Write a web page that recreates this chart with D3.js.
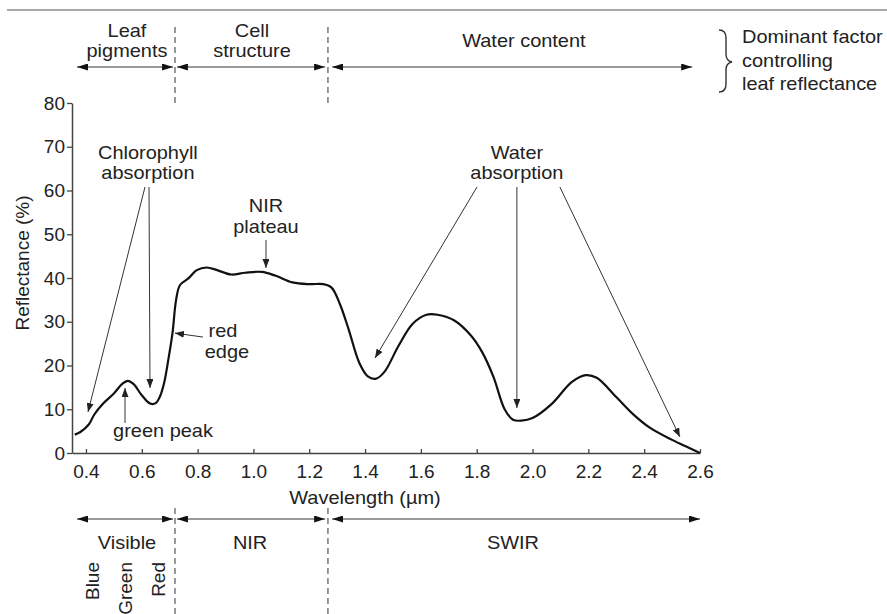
<!DOCTYPE html>
<html><head><meta charset="utf-8">
<script src="https://cdn.jsdelivr.net/npm/d3@7"></script>
<style>
html,body{margin:0;padding:0;background:#fff;}
text{font-family:"Liberation Sans",Arial,Helvetica,sans-serif;fill:#222;}
</style></head>
<body><svg id="chart" width="887" height="614"></svg>
<script>
// ---------- data ----------
const wavelength = [0.36,0.38,0.41,0.43,0.46,0.50,0.53,0.55,0.57,0.60,0.63,0.65,0.665,0.68,0.695,0.71,0.723,0.737,0.767,0.797,0.833,0.87,0.92,0.97,1.03,1.08,1.14,1.20,1.25,1.28,1.31,1.34,1.38,1.41,1.44,1.47,1.52,1.57,1.62,1.66,1.72,1.78,1.82,1.86,1.90,1.93,1.96,2.00,2.07,2.14,2.19,2.23,2.30,2.36,2.42,2.50,2.56,2.60];
const reflectance = [4.2,4.8,6.5,8.8,11.2,13.6,15.8,16.5,15.8,13.2,11.3,11.4,12.9,16.0,21.3,27.4,35.0,38.4,39.9,41.8,42.4,41.8,40.8,41.2,41.4,40.5,39.0,38.6,38.6,37.8,34.0,28.5,20.5,17.5,17.0,18.6,24.5,29.5,31.6,31.6,30.3,26.8,23.0,17.4,10.0,7.6,7.4,8.0,11.3,16.2,17.8,17.2,12.8,8.9,5.8,3.0,1.2,0.0];
const xTicks = [0.4,0.6,0.8,1.0,1.2,1.4,1.6,1.8,2.0,2.2,2.4,2.6];
const yTicks = [0,10,20,30,40,50,60,70,80];
const xTitle = "Wavelength (\u00b5m)";
const yTitle = "Reflectance (%)";

// region boundaries (µm) and labels
const boundaries = [0.719, 1.267];
const topSpans = [[0.368,0.712],[0.726,1.257],[1.282,2.572]];
const topLabels = [{w:0.547, lines:["Leaf","pigments"]},{w:0.995, lines:["Cell","structure"]},{w:1.969, lines:["Water content"]}];
const bottomSpans = [[0.368,0.712],[0.726,1.257],[1.282,2.6]];
const bottomLabels = [{w:0.547, t:"Visible"},{w:0.988, t:"NIR"},{w:1.93, t:"SWIR"}];
const colourBands = [{w:0.422, t:"Blue"},{w:0.54, t:"Green"},{w:0.658, t:"Red"}];
const legendLines = ["Dominant factor","controlling","leaf reflectance"];

// annotations in data units (wavelength, reflectance)
const noteTexts = [
  {w:0.622, v:[67.2,62.6], lines:["Chlorophyll","absorption"]},
  {w:1.944, v:[67.2,62.6], lines:["Water","absorption"]},
  {w:1.045, v:[55.1,50.3], lines:["NIR","plateau"]},
  {w:[0.891,0.905], v:[26.6,21.7], lines:["red","edge"]},
  {w:0.676, v:[3.66], lines:["green peak"]}
];
const noteArrows = [
  [0.6115,60.8,0.4073,9.37],
  [0.6259,60.8,0.6295,14.86],
  [0.5399,6.86,0.5399,14.86],
  [0.8193,26.5,0.719,27.4],
  [1.045,48.7,1.045,42.3],
  [1.801,60.8,1.4356,21.7],
  [1.944,60.8,1.944,10.3],
  [2.098,60.8,2.528,3.66]
];

// ---------- drawing ----------
const svg = d3.select("#chart");
const x = d3.scaleLinear().domain([0.35,2.6]).range([72,700]);
const y = d3.scaleLinear().domain([0,80]).range([453,103]);
const FS = 19, SX = 1.05;

function txt(px, py, s, anchor){
  return svg.append("text")
    .attr("transform", `translate(${px},${py}) scale(${SX},1)`)
    .attr("text-anchor", anchor||"middle")
    .style("font-size", FS+"px").text(s);
}

const defs = svg.append("defs");
function marker(id, len, wid, col){
  defs.append("marker").attr("id",id).attr("viewBox",`0 ${-wid/2} ${len} ${wid}`)
    .attr("refX",len).attr("refY",0).attr("markerUnits","userSpaceOnUse")
    .attr("markerWidth",len).attr("markerHeight",wid).attr("orient","auto-start-reverse")
    .append("path").attr("d",`M0,${-wid/2}L${len},0L0,${wid/2}Z`).attr("fill",col);
}
marker("hd", 11, 7, "#111");
marker("an", 9, 7, "#222");

// top rule
svg.append("line").attr("x1",7).attr("x2",887).attr("y1",10).attr("y2",10)
  .attr("stroke","#aaa").attr("stroke-width",2);

// dashed boundaries
boundaries.forEach(b=>{
  svg.append("line").attr("x1",x(b)).attr("x2",x(b)).attr("y1",27).attr("y2",107)
    .attr("stroke","#555").attr("stroke-width",1.2).attr("stroke-dasharray","6,4");
  svg.append("line").attr("x1",x(b)).attr("x2",x(b)).attr("y1",508).attr("y2",614)
    .attr("stroke","#555").attr("stroke-width",1.2).attr("stroke-dasharray","6,4");
});

// span arrows
function spans(arr, yy){
  arr.forEach(s=>{
    svg.append("line").attr("x1",x(s[0])).attr("x2",x(s[1])).attr("y1",yy).attr("y2",yy)
      .attr("stroke","#777").attr("stroke-width",1.5)
      .attr("marker-start","url(#hd)").attr("marker-end","url(#hd)");
  });
}
spans(topSpans, 67);
spans(bottomSpans, 519);

topLabels.forEach(l=>{
  if(l.lines.length===2){ txt(x(l.w),37,l.lines[0]); txt(x(l.w),57,l.lines[1]); }
  else txt(x(l.w),47,l.lines[0]);
});
bottomLabels.forEach(l=> txt(x(l.w),549,l.t));
colourBands.forEach(c=>{
  svg.append("text").attr("transform",`translate(${x(c.w)},562) rotate(-90)`)
    .attr("text-anchor","end").attr("dy","0.35em").style("font-size",FS+"px").text(c.t);
});

// brace + legend text
svg.append("path")
  .attr("d","M719,30 Q726,30 726,38 L726,54 Q726,61 732,62 Q726,63 726,70 L726,84 Q726,92 719,92")
  .attr("fill","none").attr("stroke","#333").attr("stroke-width",1.4);
legendLines.forEach((s,i)=> txt(742, 43+i*23.5, s, "start"));

// axes
const yAxis = svg.append("g").attr("transform",`translate(${x(0.35)},0)`)
  .call(d3.axisLeft(y).tickValues(yTicks).tickSize(5).tickSizeOuter(0).tickPadding(2));
const xAxis = svg.append("g").attr("transform",`translate(0,${y(0)})`)
  .call(d3.axisBottom(x).tickValues(xTicks).tickFormat(d3.format(".1f")).tickSize(-4).tickSizeOuter(0).tickPadding(12));
[xAxis,yAxis].forEach(a=>{
  a.select(".domain").attr("stroke","#444").attr("stroke-width",1.5);
  a.selectAll(".tick line").attr("stroke","#444").attr("stroke-width",1.3);
  a.selectAll(".tick text").style("font-size",FS+"px").attr("fill","#222")
    .style("font-family",'"Liberation Sans",Arial,sans-serif');
});
txt(365, 504, xTitle);
svg.append("text").attr("transform","translate(29,263) rotate(-90)")
  .attr("text-anchor","middle").style("font-size",FS+"px").text(yTitle);

// curve
const pts = wavelength.map((w,i)=>[w, reflectance[i]]);
svg.append("path").datum(pts)
  .attr("d", d3.line().x(d=>x(d[0])).y(d=>y(d[1])).curve(d3.curveCatmullRom.alpha(0.5)))
  .attr("fill","none").attr("stroke","#111").attr("stroke-width",2.2);

// annotations
noteArrows.forEach(a=>{
  svg.append("line").attr("x1",x(a[0])).attr("y1",y(a[1])).attr("x2",x(a[2])).attr("y2",y(a[3]))
    .attr("stroke","#333").attr("stroke-width",1).attr("marker-end","url(#an)");
});
noteTexts.forEach(n=>{
  n.lines.forEach((s,i)=>{
    const w = Array.isArray(n.w) ? n.w[i] : n.w;
    txt(x(w), y(n.v[i]), s);
  });
});
</script></body></html>
